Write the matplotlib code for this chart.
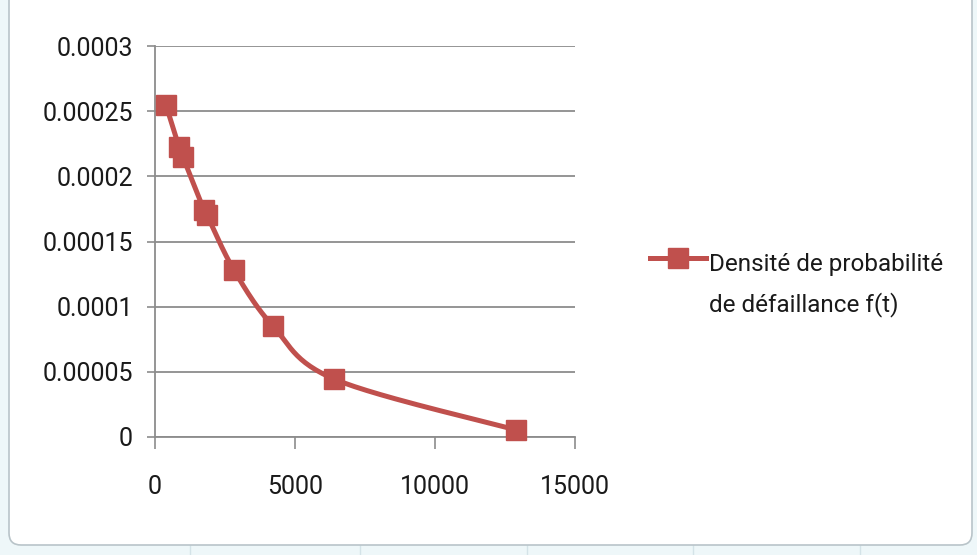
import numpy as np
import matplotlib
matplotlib.use("Agg")
import matplotlib.pyplot as plt
from matplotlib.patches import FancyBboxPatch, Rectangle
from matplotlib.lines import Line2D

# Failure-time data and density values
t_hours = [393, 857, 1000, 1750, 1857, 2821, 4214, 6393, 12893]
f_t = [0.0002546, 0.0002224, 0.0002147, 0.0001741, 0.0001702,
       0.0001280, 0.0000851, 0.0000445, 0.0000054]

x_ticks = [0, 5000, 10000, 15000]
y_ticks = [0, 0.00005, 0.0001, 0.00015, 0.0002, 0.00025, 0.0003]
y_labels = ["0", "0.00005", "0.0001", "0.00015", "0.0002", "0.00025", "0.0003"]
legend_lines = ["Densité de probabilité", "de défaillance f(t)"]

RED = "#C0504D"
GRID = "#8C8C8C"
TXT = "#1A1A1A"
FONT = ["Roboto", "DejaVu Sans"]

W, H = 977, 555
fig = plt.figure(figsize=(W / 100, H / 100), dpi=100)

# spreadsheet backdrop behind the chart frame
bg = fig.add_axes([0, 0, 1, 1])
bg.set_xlim(0, W); bg.set_ylim(H, 0); bg.axis("off")
bg.add_patch(Rectangle((0, 0), W, H, color="#EEF7F9", zorder=0))
for xv in [190, 360, 527, 693, 860]:
    bg.plot([xv, xv], [545, H], color="#D4E3E8", lw=1, zorder=1)
bg.add_patch(FancyBboxPatch((9, -40), 963, 585,
                            boxstyle="round,pad=0,rounding_size=12",
                            fc="white", ec="#B9C4C9", lw=1.2, zorder=2))

x0, x1 = 155, 575
y_top, y_bot = 46, 437
ax = fig.add_axes([x0 / W, 1 - y_bot / H, (x1 - x0) / W, (y_bot - y_top) / H])
ax.set_xlim(0, 15000)
ax.set_ylim(0, 0.0003)
ax.patch.set_alpha(0)

for yv in y_ticks:
    ax.axhline(yv, color=GRID, lw=1.3, zorder=1)
for s in ["top", "right"]:
    ax.spines[s].set_visible(False)
for s in ["left", "bottom"]:
    ax.spines[s].set_color(GRID)
    ax.spines[s].set_linewidth(1.3)

ax.set_xticks(x_ticks)
ax.set_xticklabels([str(v) for v in x_ticks])
ax.set_yticks(y_ticks)
ax.set_yticklabels(y_labels)
ax.tick_params(axis="both", colors=GRID, width=1.2, labelsize=18, labelcolor=TXT)
ax.tick_params(axis="y", length=5.8, pad=10)
ax.tick_params(axis="x", length=8.6, pad=19)
for lab in ax.get_xticklabels() + ax.get_yticklabels():
    lab.set_family(FONT)


def smooth_curve(xs, ys, n=30):
    """Catmull-Rom spline through the points, computed in axes-normalised space."""
    px = np.asarray(xs, float) / 15000.0 * (x1 - x0)
    py = np.asarray(ys, float) / 0.0003 * (y_bot - y_top)
    pts = np.column_stack([px, py])
    ext = np.vstack([pts[0], pts, pts[-1]])
    out = []
    for i in range(1, len(ext) - 2):
        p0, p1, p2, p3 = ext[i - 1], ext[i], ext[i + 1], ext[i + 2]
        c1 = p1 + (p2 - p0) / 6.0
        c2 = p2 - (p3 - p1) / 6.0
        tt = np.linspace(0, 1, n)[:, None]
        seg = ((1 - tt) ** 3) * p1 + 3 * ((1 - tt) ** 2) * tt * c1 \
            + 3 * (1 - tt) * tt ** 2 * c2 + tt ** 3 * p2
        out.append(seg if i == 1 else seg[1:])
    out = np.vstack(out)
    return out[:, 0] / (x1 - x0) * 15000.0, out[:, 1] / (y_bot - y_top) * 0.0003


sx, sy = smooth_curve(t_hours, f_t)
ax.plot(sx, sy, color=RED, lw=3.6, solid_capstyle="round", zorder=3, clip_on=False)
ax.plot(t_hours, f_t, ls="none", marker="s", ms=14, color=RED, mec=RED, zorder=4,
        clip_on=False)

# legend entry
lx0, lx1, ly = 650, 706, 258
bg.add_line(Line2D([lx0, lx1], [ly, ly], color=RED, lw=3.6, zorder=5))
bg.add_line(Line2D([(lx0 + lx1) / 2], [ly], marker="s", ms=14, color=RED, zorder=6))
for i, line in enumerate(legend_lines):
    bg.text(709, 271 + 40 * i, line, ha="left", va="baseline", fontsize=17.5,
            color=TXT, family=FONT, zorder=6)

fig.savefig("out.png", dpi=100)
